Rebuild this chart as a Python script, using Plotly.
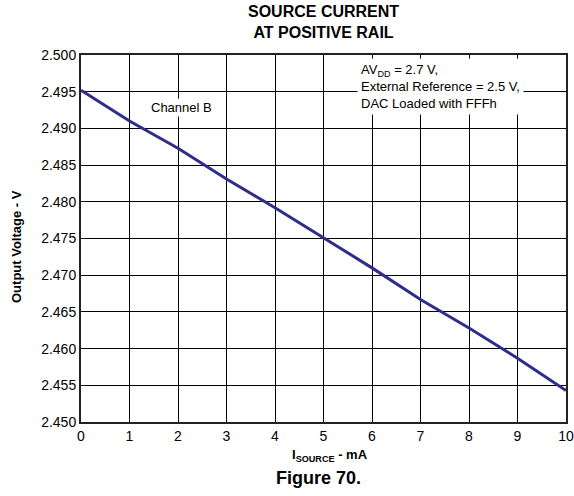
import plotly.graph_objects as go

current_ma = [0, 1, 2, 3, 4, 5, 6, 7, 8, 9, 10]
output_v = [2.4952, 2.4910, 2.4873, 2.4831, 2.4792, 2.4751, 2.4710, 2.4667, 2.4628, 2.4587, 2.4543]
y_ticks = [2.450, 2.455, 2.460, 2.465, 2.470, 2.475, 2.480, 2.485, 2.490, 2.495, 2.500]
x_ticks = list(range(0, 11))

FONT = "Arial, Liberation Sans, sans-serif"
L, R, T, B = 81, 566, 55, 422
PW, PH = R - L, B - T


def px(xp):
    return (xp - L) / PW


def py(yp):
    return (B - yp) / PH


fig = go.Figure()
fig.add_trace(go.Scatter(x=current_ma, y=output_v, mode="lines",
                         line=dict(color="#2e2d8c", width=3), showlegend=False))

fig.update_layout(
    width=574, height=496,
    margin=dict(l=L, r=574 - R, t=T, b=496 - B),
    paper_bgcolor="white", plot_bgcolor="white",
    font=dict(family=FONT, size=14, color="black"),
    xaxis=dict(range=[0, 10], tickvals=x_ticks, showgrid=True, gridcolor="black", gridwidth=1,
               showline=True, linecolor="#222", linewidth=2, mirror=True, zeroline=False,
               ticks="", tickfont=dict(size=14), automargin=False),
    yaxis=dict(range=[2.450, 2.500], tickvals=y_ticks, tickformat=".3f", showgrid=True,
               gridcolor="black", gridwidth=1, showline=True, linecolor="#222", linewidth=2,
               mirror=True, zeroline=False, ticks="", tickfont=dict(size=14), automargin=False),
    annotations=[
        dict(x=px(323), y=py(22), xref="paper", yref="paper", xanchor="center", yanchor="middle",
             text="<b>SOURCE CURRENT<br>AT POSITIVE RAIL</b>", showarrow=False,
             font=dict(size=16)),
        dict(x=px(17), y=py(247), xref="paper", yref="paper", xanchor="center", yanchor="middle",
             text="<b>Output Voltage - V</b>", textangle=-90, showarrow=False,
             font=dict(size=13)),
        dict(x=px(330), y=py(455), xref="paper", yref="paper", xanchor="center", yanchor="middle",
             text="<b>I<sub>SOURCE</sub> - mA</b>", showarrow=False, font=dict(size=13)),
        dict(x=2.08, y=2.4928, xref="x", yref="y", text="Channel B", showarrow=False,
             font=dict(size=13), bgcolor="white"),
        dict(x=px(357), y=py(58), xref="paper", yref="paper",
             xanchor="left", yanchor="top", align="left", showarrow=False,
             text="AV<sub>DD</sub> = 2.7 V,<br>External Reference = 2.5 V,<br>DAC Loaded with FFFh",
             font=dict(size=13), bgcolor="white", borderpad=3),
        dict(x=px(318), y=py(478), xref="paper", yref="paper",
             xanchor="center", yanchor="middle", showarrow=False,
             text="<b>Figure 70.</b>", font=dict(size=18)),
    ],
)

fig.write_html(
    "out.html",
    config={"responsive": False, "displayModeBar": False},
    post_script="document.body.style.margin='0';document.body.style.overflow='hidden';",
)
